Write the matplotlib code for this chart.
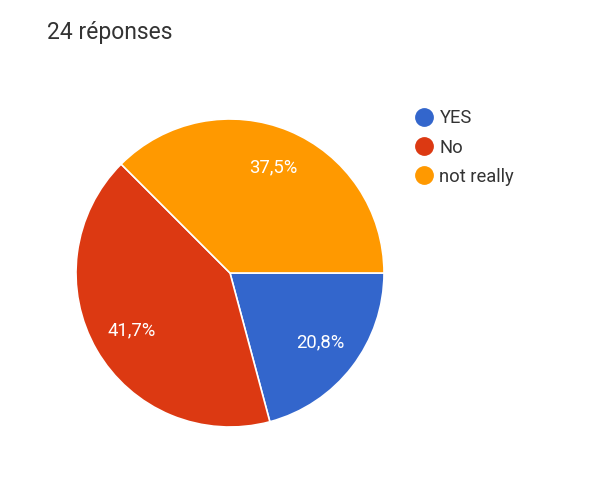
import matplotlib.pyplot as plt
from matplotlib.lines import Line2D

plt.rcParams['font.family'] = ['Roboto', 'DejaVu Sans']

# data
labels = ['YES', 'No', 'not really']
counts = [5, 10, 9]
colors = ['#3366cc', '#dc3912', '#ff9900']
title = '24 réponses'

W, H = 604, 492
fig = plt.figure(figsize=(W / 100, H / 100), dpi=100)
fig.patch.set_facecolor('white')

# pie area: centre (230, 273) px, radius 154 px
cx, cy, r = 230, 273, 154
ax = fig.add_axes([(cx - r) / W, (H - cy - r) / H, 2 * r / W, 2 * r / H])


def fmt(p):
    return f'{p:.1f}%'.replace('.', ',')


wedges, _, autotexts = ax.pie(counts, colors=colors, startangle=0, counterclock=False,
                              autopct=fmt, pctdistance=0.74,
                              wedgeprops=dict(edgecolor='white', linewidth=1.2),
                              textprops=dict(color='white', fontsize=13.3))
ax.set_xlim(-1, 1)
ax.set_ylim(-1, 1)
ax.set_aspect('equal')

fig.text(47 / W, 1 - 32 / H, title, fontsize=16.5, color='#333333', va='center', ha='left')

handles = [Line2D([], [], marker='o', linestyle='none', markersize=12.5,
                  markerfacecolor=c, markeredgecolor=c) for c in colors]
fig.legend(handles, labels, loc='upper left', bbox_to_anchor=(400 / W, 1 - 100 / H),
           frameon=False, fontsize=13.2, labelcolor='#333333', labelspacing=0.62,
           handletextpad=0.05, handlelength=1.6, borderpad=0)

plt.savefig('out.png', dpi=100, facecolor='white')
